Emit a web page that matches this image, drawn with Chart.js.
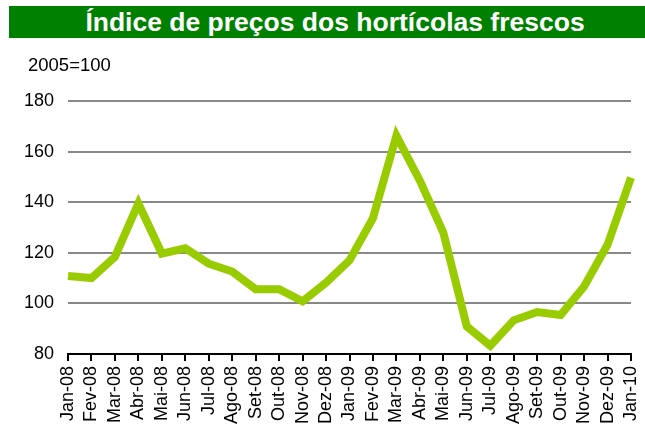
<!DOCTYPE html>
<html>
<head>
<meta charset="utf-8">
<script src="https://cdn.jsdelivr.net/npm/chart.js@4"></script>
<style>
  html, body { margin: 0; padding: 0; background: #fff; overflow: hidden; }
  #wrap { position: relative; width: 645px; height: 425px; }
  #title {
    position: absolute; left: 9px; top: 6px; width: 620px; height: 32px; padding-left: 16px;
    background: #008000; color: #fff; text-align: center;
    font: bold 26.5px Arial, "Liberation Sans", sans-serif; line-height: 32px;
  }
  #unit {
    position: absolute; left: 28px; top: 56px; height: 18px;
    font: 18.5px Arial, "Liberation Sans", sans-serif; line-height: 18px; color: #000;
  }
  canvas { position: absolute; left: 0; top: 0; }
</style>
</head>
<body>
<div id="wrap">
  <canvas id="chart" width="645" height="425"></canvas>
  <div id="title">Índice de preços dos hortícolas frescos</div>
  <div id="unit">2005=100</div>
</div>
<script>
// data
const months = ['Jan-08', 'Fev-08', 'Mar-08', 'Abr-08', 'Mai-08', 'Jun-08', 'Jul-08', 'Ago-08',
  'Set-08', 'Out-08', 'Nov-08', 'Dez-08', 'Jan-09', 'Fev-09', 'Mar-09', 'Abr-09', 'Mai-09',
  'Jun-09', 'Jul-09', 'Ago-09', 'Set-09', 'Out-09', 'Nov-09', 'Dez-09', 'Jan-10'];
const priceIndex = [110.8, 110.0, 118.4, 139.5, 119.7, 121.8, 115.7, 112.6, 105.6, 105.6, 100.8, 108.2,
  117.0, 133.7, 166.3, 148.5, 128.0, 90.9, 83.3, 93.3, 96.6, 95.4, 106.7, 123.2, 149.7];
const yTicks = [80, 100, 120, 140, 160, 180];

const font = "Arial, 'Liberation Sans', sans-serif";

new Chart(document.getElementById('chart'), {
  type: 'line',
  data: {
    labels: months,
    datasets: [{
      data: priceIndex,
      borderColor: '#99cc00',
      borderWidth: 8,
      pointRadius: 0,
      tension: 0,
      clip: false
    }]
  },
  options: {
    responsive: false,
    animation: false,
    layout: { padding: { top: 101, right: 14, left: 0, bottom: 0 } },
    plugins: { legend: { display: false }, tooltip: { enabled: false } },
    scales: {
      x: {
        afterFit: s => { s.height = 71; s.paddingLeft = 0; s.paddingRight = 0; },
        grid: { drawOnChartArea: false, drawTicks: true, tickLength: 7, color: '#000', lineWidth: 2 },
        border: { display: true, color: '#000', width: 2 },
        ticks: {
          autoSkip: false, minRotation: 90, maxRotation: 90, padding: 5,
          color: '#000', font: { family: font, size: 18 }
        }
      },
      y: {
        min: yTicks[0],
        max: yTicks[yTicks.length - 1],
        afterFit: s => { s.width = 68; s.paddingTop = 0; s.paddingBottom = 0; },
        afterBuildTicks: s => { s.ticks = yTicks.map(v => ({ value: v })); },
        grid: {
          drawTicks: false,
          lineWidth: 2,
          color: c => (c.tick && c.tick.value === yTicks[0]) ? 'rgba(0,0,0,0)' : '#888'
        },
        border: { display: false },
        ticks: { padding: 14, color: '#000', font: { family: font, size: 18 } }
      }
    }
  }
});
</script>
</body>
</html>
